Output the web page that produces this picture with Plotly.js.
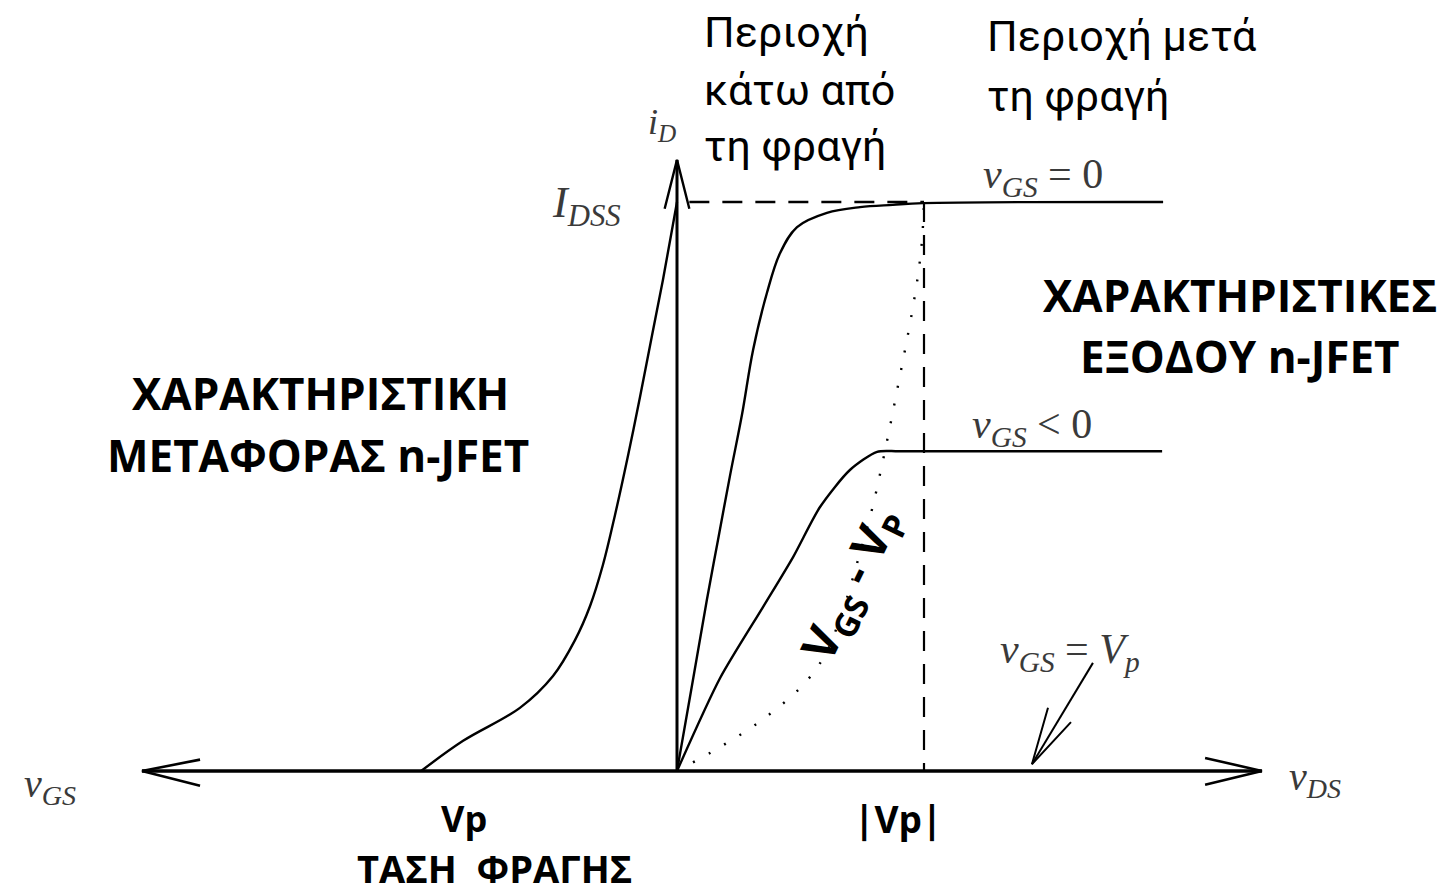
<!DOCTYPE html>
<html>
<head>
<meta charset="utf-8">
<script src="https://cdn.plot.ly/plotly-3.0.1.min.js"></script>
<style>
  html, body { margin: 0; padding: 0; background: #fff; }
  #chart { width: 1445px; height: 893px; }
</style>
</head>
<body>
<div id="chart"></div>
<script>
// Units: v_DS and v_GS in multiples of |Vp|, i_D in multiples of I_DSS.

// Transfer characteristic (drawn on the negative v_GS side)
const vgsTransfer = [-1.036, -0.866, -0.636, -0.502, -0.413, -0.352, -0.300, -0.251, -0.198, -0.150, -0.101, -0.057, -0.024, 0];
const idTransfer  = [0, 0.053, 0.111, 0.167, 0.230, 0.290, 0.362, 0.450, 0.555, 0.657, 0.766, 0.863, 0.942, 1.0];

// Output characteristic, v_GS = 0
const vdsZero = [0, 0.061, 0.121, 0.166, 0.215, 0.263, 0.308, 0.364, 0.417, 0.486, 0.607, 0.741, 0.874, 0.996, 1.968];
const idZero  = [0, 0.151, 0.301, 0.406, 0.520, 0.626, 0.740, 0.840, 0.910, 0.956, 0.981, 0.991, 0.995, 0.998, 1.0];

// Output characteristic, v_GS < 0
const vdsNeg = [0, 0.174, 0.348, 0.470, 0.579, 0.700, 0.810, 0.900, 1.964];
const idNeg  = [0, 0.163, 0.288, 0.376, 0.464, 0.529, 0.561, 0.562, 0.562];

// Saturation boundary v_DS = v_GS - Vp (dotted)
const vdsEdge = [0, 0.174, 0.348, 0.510, 0.599, 0.672, 0.733, 0.789, 0.830, 0.862, 0.895, 0.923, 0.951, 0.976, 0.992, 1.0];
const idEdge  = [0, 0.042, 0.091, 0.151, 0.204, 0.283, 0.371, 0.459, 0.538, 0.605, 0.678, 0.740, 0.805, 0.872, 0.933, 0.998];

// Reference levels
const idss = 1.0;        // I_DSS
const vpAbs = 1.0;       // |Vp|

// Axis extents
const vgsAxisEnd = -2.166;
const vdsAxisEnd = 2.368;
const idAxisEnd = 1.074;

// Page frame
const xRange = [-2.7409, 3.1093];
const yRange = [-0.2144, 1.3550];

const W = 1445, H = 893;
// helpers to place text in paper fractions
const px = v => v / W;
const py = v => 1 - v / H;

const black = '#000';
const solid = (x, y, w, s) => ({
  x: x, y: y, mode: 'lines', type: 'scatter', hoverinfo: 'skip',
  line: { color: black, width: w || 2.4, shape: 'spline', smoothing: s || 1 }
});

// open "V" arrowheads built from the tip, in axis units
function barbs(tipX, tipY, dx1, dy1, dx2, dy2, w) {
  return {
    x: [tipX + dx1, tipX, tipX + dx2], y: [tipY + dy1, tipY, tipY + dy2],
    mode: 'lines', type: 'scatter', hoverinfo: 'skip',
    line: { color: black, width: w || 2.4 }
  };
}

// small pointer towards the v_GS = Vp curve (lies on the v_DS axis)
const pointer = { x: [1.684, 1.437], y: [0.190, 0.012] };

const traces = [
  // axes
  { x: [vgsAxisEnd, vdsAxisEnd], y: [0, 0], mode: 'lines', type: 'scatter', hoverinfo: 'skip',
    line: { color: black, width: 3.6 } },
  { x: [0, 0], y: [0, idAxisEnd], mode: 'lines', type: 'scatter', hoverinfo: 'skip',
    line: { color: black, width: 3 } },
  barbs(vgsAxisEnd, 0, 0.235, 0.020, 0.235, -0.026, 2.6),
  barbs(vdsAxisEnd, 0, -0.230, 0.023, -0.230, -0.024, 2.6),
  barbs(0, idAxisEnd, -0.050, -0.086, 0.050, -0.086, 2.4),

  // I_DSS and |Vp| guides
  { x: [0.05, vpAbs], y: [idss, idss], mode: 'lines', type: 'scatter', hoverinfo: 'skip',
    line: { color: black, width: 2.6, dash: '20px,13px' } },
  { x: [vpAbs, vpAbs], y: [idss, 0], mode: 'lines', type: 'scatter', hoverinfo: 'skip',
    line: { color: black, width: 2.2, dash: '20px,13px' } },

  // saturation boundary
  { x: vdsEdge, y: idEdge, mode: 'lines', type: 'scatter', hoverinfo: 'skip',
    line: { color: black, width: 2.4, dash: '2px,16px', shape: 'spline', smoothing: 1 } },

  // curves
  solid(vgsTransfer, idTransfer, 2.4, 1),
  solid(vdsZero, idZero, 2.4, 1),
  solid(vdsNeg, idNeg, 2.4, 0.7),

  // pointer with its head
  { x: pointer.x, y: pointer.y, mode: 'lines', type: 'scatter', hoverinfo: 'skip',
    line: { color: black, width: 2 } },
  barbs(pointer.x[1], pointer.y[1], 0.065, 0.099, 0.158, 0.074, 2)
];

const sans = 'Roboto, Open Sans, sans-serif';
const sansBold = 'Open Sans, Noto Sans, sans-serif';
const serif = 'Liberation Serif, DejaVu Serif, serif';
const mathColor = '#3a3a3a';

function note(text, x, y, opts) {
  return Object.assign({
    text: text, xref: 'paper', yref: 'paper', x: px(x), y: py(y),
    showarrow: false, xanchor: 'center', yanchor: 'middle',
    font: { family: sans, size: 43, color: black }
  }, opts || {});
}
const left = (text, x, y) => note(text, x, y, { xanchor: 'left', align: 'left' });
const heading = (text, x, y) => note('<b>' + text + '</b>', x, y, { font: { family: sansBold, size: 44, color: black } });
const math = (text, x, y, size) => note(text, x, y, { font: { family: serif, size: size, color: mathColor } });

const annotations = [
  left('Περιοχή', 702, 32),
  left('κάτω από', 702, 90),
  left('τη φραγή', 702, 146),
  left('Περιοχή μετά', 985, 36),
  left('τη φραγή', 985, 96),

  heading('ΧΑΡΑΚΤΗΡΙΣΤΙΚΕΣ', 1240, 295),
  heading('ΕΞΟΔΟΥ n-JFET', 1240, 356),
  heading('ΧΑΡΑΚΤΗΡΙΣΤΙΚΗ', 320, 393),
  heading('ΜΕΤΑΦΟΡΑΣ n-JFET', 318, 455),

  note('<b>Vp</b>', 464, 818, { font: { family: sansBold, size: 36, color: black } }),
  note('<b>|Vp|</b>', 898, 818, { font: { family: sansBold, size: 37, color: black } }),
  note('<b>ΤΑΣΗ\u00A0\u00A0ΦΡΑΓΗΣ</b>', 495, 868, { font: { family: sansBold, size: 38, color: black } }),
  note('<b>V<sub>GS</sub> - V<sub>P</sub></b>', 852, 585,
       { textangle: -64, font: { family: sansBold, size: 47, color: black } }),

  math('<i>i</i><sub><i>D</i></sub>', 662, 124, 36),
  math('<i>I</i><sub><i>DSS</i></sub>', 586, 206, 44),
  math('<i>v</i><sub><i>GS</i></sub>\u00A0=\u00A00', 1043, 177, 42),
  math('<i>v</i><sub><i>GS</i></sub>\u00A0&lt;\u00A00', 1032, 427, 42),
  math('<i>v</i><sub><i>GS</i></sub>\u00A0=\u00A0<i>V</i><sub><i>p</i></sub>', 1070, 652, 42),
  math('<i>v</i><sub><i>GS</i></sub>', 50, 786, 40),
  math('<i>v</i><sub><i>DS</i></sub>', 1315, 779, 40)
];

const hidden = { visible: false, fixedrange: true, showgrid: false, zeroline: false };

const layout = {
  width: W, height: H,
  margin: { l: 0, r: 0, t: 0, b: 0 },
  paper_bgcolor: '#fff', plot_bgcolor: '#fff',
  showlegend: false,
  xaxis: Object.assign({ range: xRange }, hidden),
  yaxis: Object.assign({ range: yRange }, hidden),
  annotations: annotations
};

Plotly.newPlot('chart', traces, layout, { staticPlot: true, displayModeBar: false });
</script>
</body>
</html>
